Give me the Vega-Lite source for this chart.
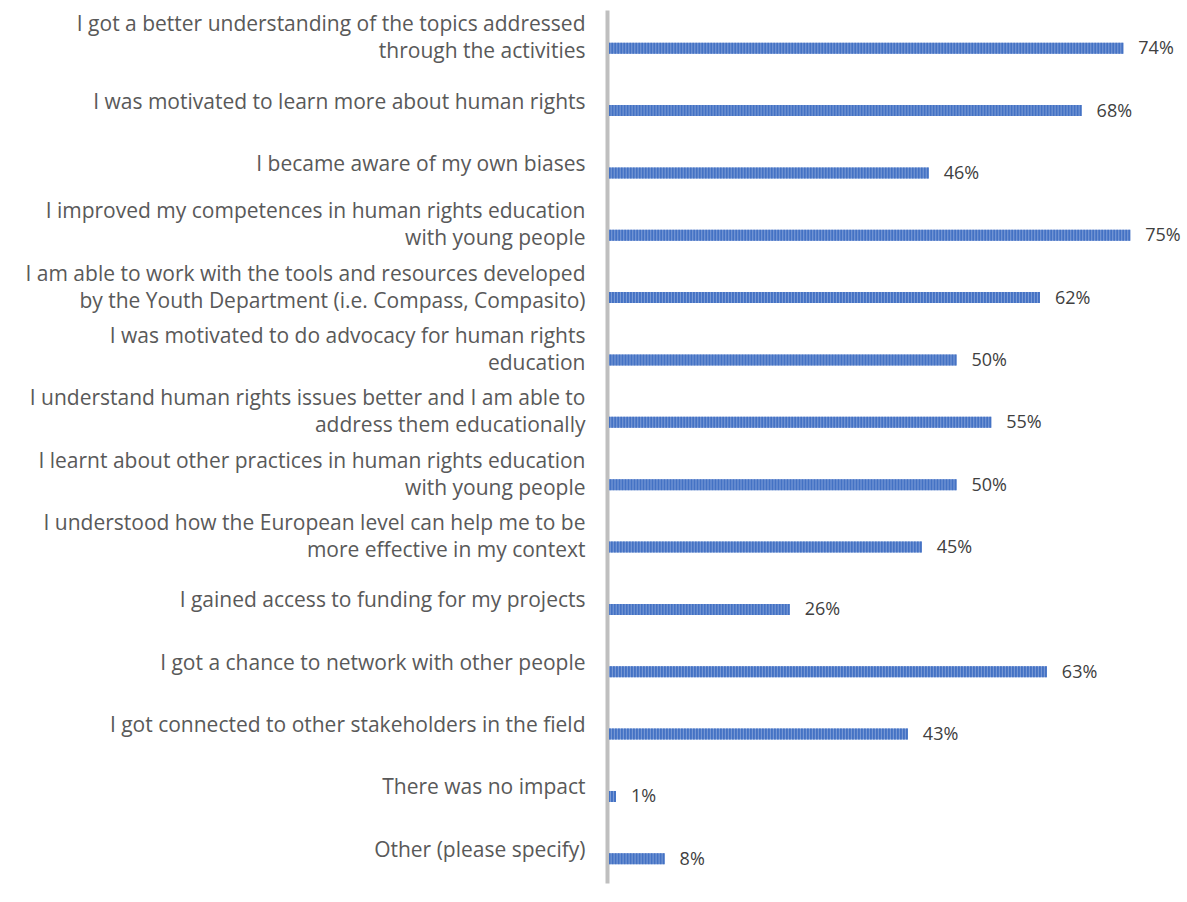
{
  "$schema": "https://vega.github.io/schema/vega-lite/v6.json",
  "width": 556,
  "height": 873,
  "autosize": {"type": "none"},
  "padding": {"left": 609, "top": 10, "right": 22, "bottom": 19},
  "background": "white",
  "config": {
    "view": {"stroke": null},
    "font": "Open Sans"
  },
  "data": {
    "values": [
      {"item": "I got a better understanding of the topics addressed|through the activities", "share": 0.74},
      {"item": "I was motivated to learn more about human rights", "share": 0.68},
      {"item": "I became aware of my own biases", "share": 0.46},
      {"item": "I improved my competences in human rights education|with young people", "share": 0.75},
      {"item": "I am able to work with the tools and resources developed|by the Youth Department (i.e. Compass, Compasito)", "share": 0.62},
      {"item": "I was motivated to do advocacy for human rights|education", "share": 0.50},
      {"item": "I understand human rights issues better and I am able to|address them educationally", "share": 0.55},
      {"item": "I learnt about other practices in human rights education|with young people", "share": 0.50},
      {"item": "I understood how the European level can help me to be|more effective in my context", "share": 0.45},
      {"item": "I gained access to funding for my projects", "share": 0.26},
      {"item": "I got a chance to network with other people", "share": 0.63},
      {"item": "I got connected to other stakeholders in the field", "share": 0.43},
      {"item": "There was no impact", "share": 0.01},
      {"item": "Other (please specify)", "share": 0.08}
    ]
  },
  "layer": [
    {
      "mark": {"type": "bar", "height": 11, "yOffset": 7, "color": "#7f9ed8"},
      "encoding": {
        "y": {
          "field": "item",
          "type": "nominal",
          "sort": null,
          "title": null,
          "axis": {
            "domainColor": "#bfbfbf",
            "domainWidth": 4,
            "offset": 2,
            "ticks": false,
            "labelPadding": 22,
            "labelOffset": {"condition": {"test": "indexof(datum.value, '|') >= 0", "value": -16}, "value": -1},
            "labelLimit": 0,
            "labelFontSize": 21,
            "labelColor": "#595959",
            "labelLineHeight": 27,
            "labelExpr": "split(datum.value, '|')"
          }
        },
        "x": {
          "field": "share",
          "type": "quantitative",
          "scale": {"domain": [0, 0.8]},
          "axis": null
        }
      }
    },
    {
      "mark": {"type": "rule", "strokeWidth": 11, "yOffset": 7, "color": "#4472c4", "strokeDash": [2, 1], "strokeCap": "butt"},
      "encoding": {
        "y": {"field": "item", "type": "nominal", "sort": null},
        "x": {"field": "share", "type": "quantitative"},
        "x2": {"datum": 0}
      }
    },
    {
      "mark": {"type": "text", "align": "left", "baseline": "middle", "dx": 15, "dy": 8, "fontSize": 18, "color": "#404040"},
      "encoding": {
        "y": {"field": "item", "type": "nominal", "sort": null},
        "x": {"field": "share", "type": "quantitative"},
        "text": {"field": "share", "type": "quantitative", "format": ".0%"}
      }
    }
  ]
}
